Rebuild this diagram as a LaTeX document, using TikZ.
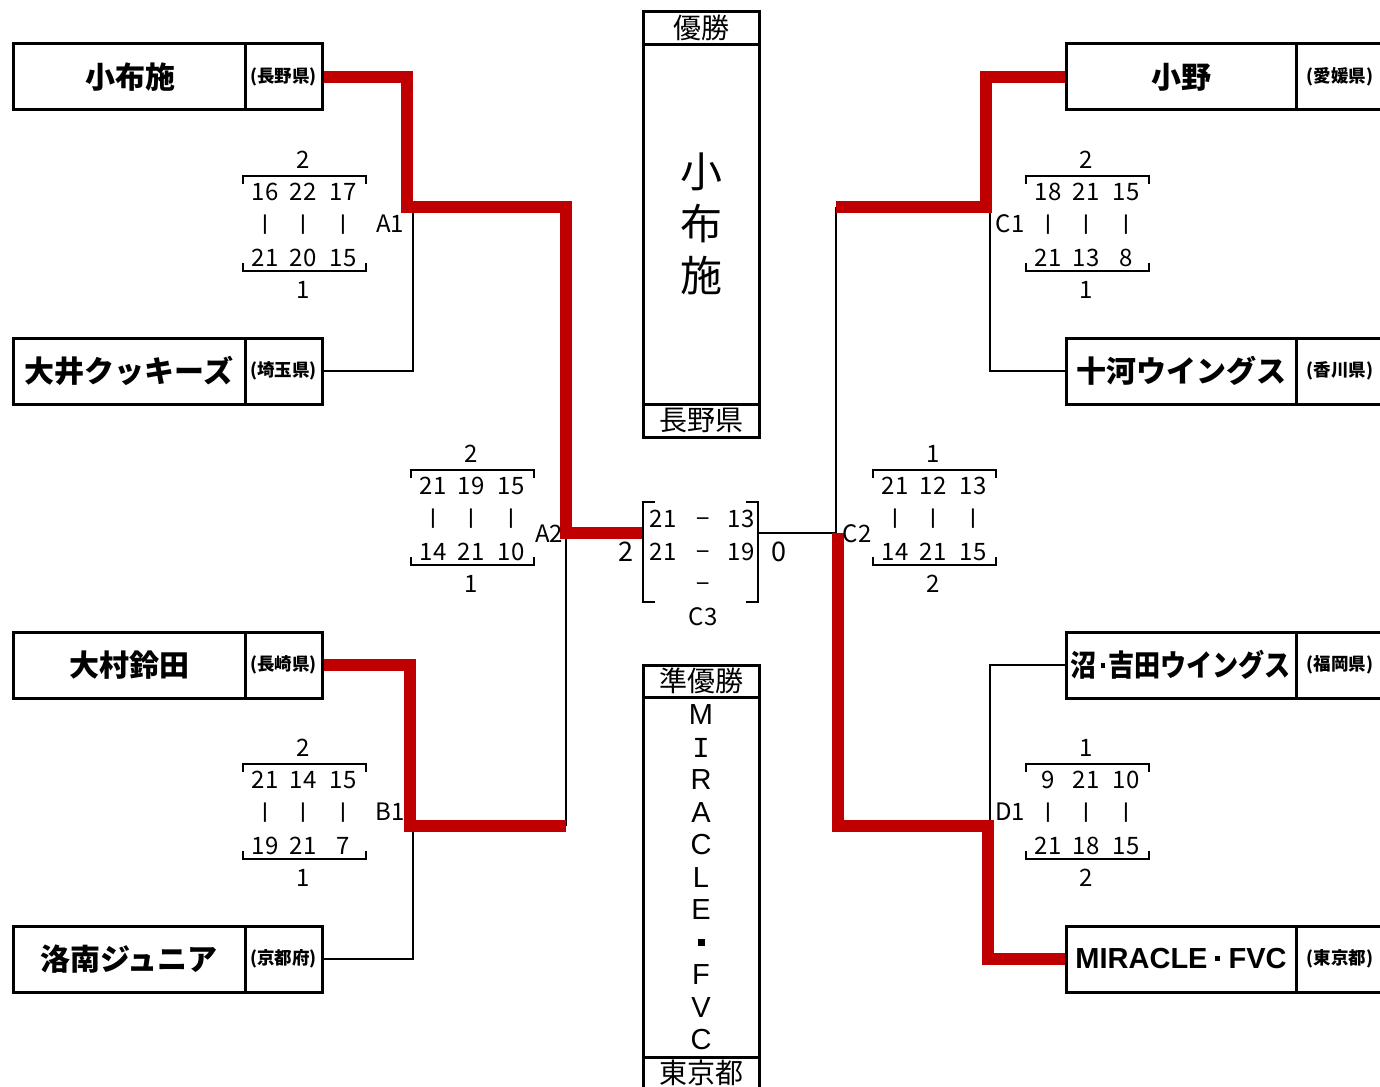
\documentclass[tikz,border=0pt]{standalone}
\usepackage{fontspec}
\newfontfamily\cjk{Noto Sans CJK JP}
\newfontfamily\lsans{Liberation Sans}
\newfontfamily\lmono{Liberation Mono}
\definecolor{winred}{RGB}{192,0,0}
\newcommand\scoreblk[8]{%
  \node[sc] (#1t) at (0,0) {#2};
  \draw[brk] (-60,24) -- (-60,16) -- (63,16) -- (63,24);
  \node[sc] (#1a) at (-38,32) {#3};
  \node[sc] (#1b) at (0,32) {#4};
  \node[sc] (#1c) at (40,32) {#5};
  \node[bar] (#1v) at (-38,65) {|};
  \node[bar] (#1w) at (0,65) {|};
  \node[bar] (#1x) at (40,65) {|};
  \node[sc] (#1d) at (-38,98) {#6};
  \node[sc] (#1e) at (0,98) {#7};
  \node[sc] (#1f) at (40,98) {#8};
  \draw[brk] (-60,103) -- (-60,111) -- (63,111) -- (63,103);
}
\begin{document}
\begin{tikzpicture}[x=1pt,y=-1pt,
  bx/.style={draw, line width=3pt, inner sep=0pt, minimum height=66pt},
  nm/.style={bx, minimum width=232pt, font=\cjk\bfseries\fontsize{30}{30}\selectfont},
  nmr/.style={bx, minimum width=230pt, font=\cjk\bfseries\fontsize{30}{30}\selectfont},
  pf/.style={bx, minimum width=77pt, font=\cjk\bfseries\fontsize{17.5}{17.5}\selectfont},
  pfr/.style={bx, minimum width=88pt, font=\cjk\bfseries\fontsize{17.5}{17.5}\selectfont},
  win/.style={draw=winred, line width=12pt},
  thin/.style={draw=black, line width=2.5pt},
  brk/.style={draw=black, line width=1.5pt},
  sc/.style={inner sep=0pt, text height=17.5pt, text depth=0pt, font=\cjk\fontsize{24}{24}\selectfont},
  bar/.style={inner sep=0pt, font=\cjk\bfseries\fontsize{17}{17}\selectfont},
  big/.style={inner sep=0pt, text height=19.5pt, text depth=0pt, font=\cjk\fontsize{27}{27}\selectfont},
  frame/.style={draw=black, line width=3pt}]
\useasboundingbox (0,0) rectangle (1380,1086);
\fill[white] (0,0) rectangle (1380,1086);

% left team boxes
\node[nm] (n1) at (129,77) {\hspace{2pt}小布施};
\node[pf] (p1) at (283.5,77) {(長野県)};
\node[nm] (n2) at (129,371) {大井クッキーズ};
\node[pf] (p2) at (283.5,371) {(埼玉県)};
\node[nm] (n3) at (129,665) {大村鈴田};
\node[pf] (p3) at (283.5,665) {(長崎県)};
\node[nm] (n4) at (129,959) {洛南ジュニア};
\node[pf] (p4) at (283.5,959) {(京都府)};

% right team boxes
\node[pfr] (q1) at (1340,77) {(愛媛県)};
\node[nmr] (m1) at (1181,77) {小野};
\node[pfr] (q2) at (1340,371) {(香川県)};
\node[nmr] (m2) at (1181,371) {十河ウイングス};
\node[pfr] (q3) at (1340,665) {(福岡県)};
\node[nmr] (m3) at (1181,665) {\scalebox{0.87}[1]{沼\hspace{4pt}\rule[9pt]{5pt}{5pt}\hspace{4pt}吉田ウイングス}};
\node[pfr] (q4) at (1340,959) {(東京都)};
\node[nmr] (m4) at (1181,959) {\lsans\bfseries\fontsize{29}{29}\selectfont MIRACLE\hspace{7pt}\rule[8pt]{5pt}{5pt}\hspace{9pt}FVC};

% junction coordinates
\coordinate (jA1) at (407,207);
\coordinate (jA1b) at (413,213);
\coordinate (jA2) at (566,533);
\coordinate (jB1) at (410,826);
\coordinate (jB1b) at (413,832);
\coordinate (jB1r) at (566,826);
\coordinate (c3l) at (643,533);
\coordinate (c3r) at (758,533);
\coordinate (jC1) at (986,207);
\coordinate (jC1b) at (990,213);
\coordinate (jC1l) at (836,207);
\coordinate (jC2t) at (836,533);
\coordinate (jC2) at (838,533);
\coordinate (jD1) at (988,826);
\coordinate (jD1b) at (990,820);

% thin (losing) lines
\draw[thin] (p2.east) -| (jA1b);
\draw[thin] (p4.east) -| (jB1b);
\draw[thin] (jA2) -- (jB1r);
\draw[thin] (m2.west) -| (jC1b);
\draw[thin] (m3.west) -| (jD1b);
\draw[thin] (jC1l) -- (jC2t);
\draw[thin] (c3r) -- (jC2t);

% winner lines
\draw[win] (p1.east) -| (jA1) -| (jA2) -- (c3l);
\draw[win] (p3.east) -| (jB1) -- (jB1r);
\draw[win] (m1.west) -| (jC1) -- (jC1l);
\draw[win] (jC2) |- (jD1) |- (m4.west);

% score blocks
\begin{scope}[shift={(303,160)}]\scoreblk{sA1}{2}{16}{22}{17}{21}{20}{15}\node[sc] (sA1z) at (0,130) {1};\end{scope}
\begin{scope}[shift={(303,748)}]\scoreblk{sB1}{2}{21}{14}{15}{19}{21}{7}\node[sc] (sB1z) at (0,130) {1};\end{scope}
\begin{scope}[shift={(471,454)}]\scoreblk{sA2}{2}{21}{19}{15}{14}{21}{10}\node[sc] (sA2z) at (0,130) {1};\end{scope}
\begin{scope}[shift={(1086,160)}]\scoreblk{sC1}{2}{18}{21}{15}{21}{13}{8}\node[sc] (sC1z) at (0,130) {1};\end{scope}
\begin{scope}[shift={(933,454)}]\scoreblk{sC2}{1}{21}{12}{13}{14}{21}{15}\node[sc] (sC2z) at (0,130) {2};\end{scope}
\begin{scope}[shift={(1086,748)}]\scoreblk{sD1}{1}{9}{21}{10}{21}{18}{15}\node[sc] (sD1z) at (0,130) {2};\end{scope}

% match labels
\node[sc] (lA1) at (390,224) {A1};
\node[sc] (lB1) at (390,812) {B1};
\node[sc] (lA2) at (549,534) {A2};
\node[sc] (lC1) at (1010,224) {C1};
\node[sc] (lD1) at (1010,812) {D1};
\node[sc] (lC2) at (857,534) {C2};

% final C3
\draw[brk] (655,502) -- (643,502) -- (643,602) -- (655,602);
\draw[brk] (746,502) -- (758,502) -- (758,602) -- (746,602);
\node[sc] (f1a) at (663,519) {21};
\node[sc] (f1b) at (703,519) {−};
\node[sc] (f1c) at (741,519) {13};
\node[sc] (f2a) at (663,552) {21};
\node[sc] (f2b) at (703,552) {−};
\node[sc] (f2c) at (741,552) {19};
\node[sc] (f3b) at (703,584) {−};
\node[sc] (lC3) at (703,617) {C3};
\node[big] (fl) at (626,552) {2};
\node[big] (fr) at (779,552) {0};

% champion box
\draw[frame] (643,12) rectangle (759,437);
\draw[frame] (643,45) -- (759,45);
\draw[frame] (643,404) -- (759,404);
\node[inner sep=0pt, font=\cjk\fontsize{28}{28}\selectfont] (chh) at (701,28) {優勝};
\node[inner sep=0pt, font=\cjk\fontsize{28}{28}\selectfont] (chp) at (701,420) {長野県};
\node[inner sep=0pt, align=center, font=\cjk\fontsize{42}{52}\selectfont] (chn) at (701,224) {小\\布\\施};

% runner-up box
\draw[frame] (643,665) rectangle (759,1095);
\draw[frame] (643,697) -- (759,697);
\draw[frame] (643,1057) -- (759,1057);
\node[inner sep=0pt, font=\cjk\fontsize{28}{28}\selectfont] (ruh) at (701,681) {準優勝};
\node[inner sep=0pt, font=\cjk\fontsize{28}{28}\selectfont] (rup) at (701,1073) {東京都};
\foreach \ch [count=\i] in {M,{\lmono I},R,A,C,L,E,{\rule{7pt}{7pt}},F,V,C}
  \node[inner sep=0pt, font=\lsans\fontsize{29}{29}\selectfont] (ru\i) at (701,{715+32.5*(\i-1)}) {\ch};
\end{tikzpicture}
\end{document}
